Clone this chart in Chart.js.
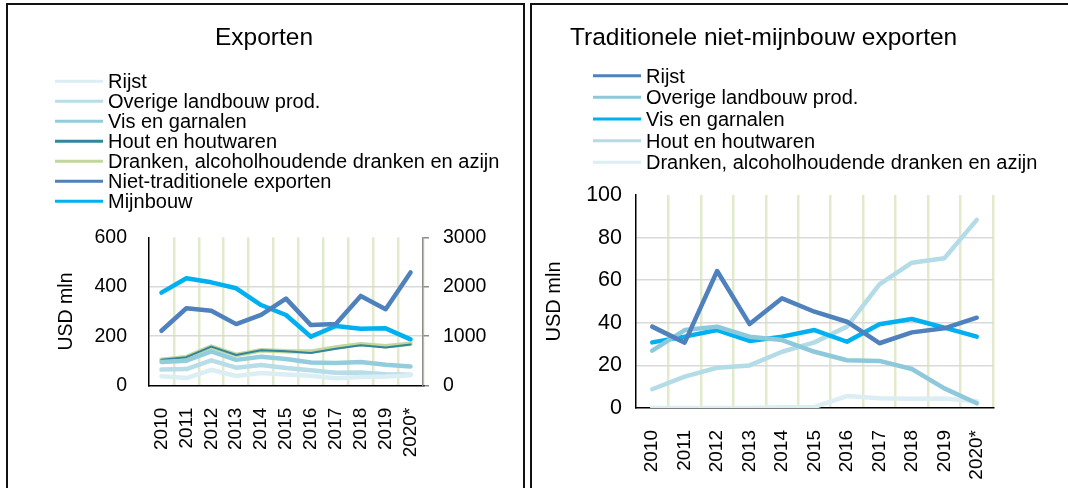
<!DOCTYPE html>
<html>
<head>
<meta charset="utf-8">
<script src="https://cdn.jsdelivr.net/npm/chart.js@4.4.1/dist/chart.umd.min.js"></script>
<style>
  html, body { margin: 0; padding: 0; background: #fff; width: 1068px; height: 488px; overflow: hidden; }
  .panel { position: absolute; top: 3px; height: 500px; border: 2px solid #111; border-bottom: none; box-sizing: border-box; }
  #panelLeft { left: 6px; width: 519px; }
  #panelRight { left: 530px; width: 560px; border-right: none; }
  canvas { position: absolute; }
  #exportChart { left: 9px; top: 6px; }
  #tradChart { left: 533px; top: 6px; }
</style>
</head>
<body>
<div class="panel" id="panelLeft"></div>
<div class="panel" id="panelRight"></div>
<canvas id="exportChart" width="514" height="482"></canvas>
<canvas id="tradChart" width="535" height="482"></canvas>
<script>
// Years on the category axis
const years = ['2010', '2011', '2012', '2013', '2014', '2015', '2016', '2017', '2018', '2019', '2020*'];

// Traditional non-mining exports, USD mln
const rijst    = [38.2, 30.7, 64.3, 39.4, 51.5, 45.2, 40.5, 30.4, 35.5, 37.4, 42.4];
const overige  = [26.9, 36.6, 38.2, 33.5, 31.9, 26.4, 22.4, 22.1, 18.3, 9.2, 2.2];
const vis      = [30.8, 33.5, 36.6, 31.5, 33.5, 36.6, 31.1, 39.3, 41.8, 37.7, 33.5];
const hout     = [8.8, 14.7, 18.9, 20.0, 26.4, 30.8, 38.2, 58.0, 68.2, 70.3, 88.3];
const dranken  = [0, 0, 0, 0, 0.3, 0.5, 5.6, 4.6, 4.3, 4.5, 3.2];

// Other export groups, USD mln
const nietTraditioneel = [222, 313, 303, 249, 286, 352, 245, 249, 363, 309, 458];
const mijnbouw         = [1881, 2171, 2090, 1969, 1631, 1429, 991, 1207, 1153, 1160, 937];

// Axis ticks
const exportTicksLeft  = [0, 200, 400, 600];
const exportTicksRight = [0, 1000, 2000, 3000];
const tradTicks        = [0, 20, 40, 60, 80, 100];

const FONT = "'Liberation Sans', Arial, Helvetica, sans-serif";
Chart.defaults.font.family = FONT;
Chart.defaults.color = '#000';
Chart.defaults.animation = false;

// Title and single-column legend drawn above the plot area
const panelHeader = {
  id: 'panelHeader',
  afterDraw(chart, args, o) {
    const ctx = chart.ctx;
    ctx.save();
    ctx.fillStyle = '#000';
    ctx.textBaseline = 'alphabetic';
    ctx.font = o.titleSize + 'px ' + FONT;
    ctx.textAlign = o.titleAlign;
    ctx.fillText(o.title, o.titleX, o.titleY);
    ctx.font = o.legendSize + 'px ' + FONT;
    ctx.textAlign = 'left';
    ctx.lineCap = 'butt';
    chart.data.datasets.forEach((ds, i) => {
      const base = o.legendY + i * o.legendStep;
      const ly = base - o.lineRise;
      ctx.strokeStyle = ds.borderColor;
      ctx.lineWidth = o.legendLineWidth;
      ctx.beginPath();
      ctx.moveTo(o.legendX, ly);
      ctx.lineTo(o.legendX + o.legendLen, ly);
      ctx.stroke();
      ctx.fillText(ds.label, o.legendX + o.legendLen + o.legendGap, base);
    });
    ctx.restore();
  }
};

const VGRID = '#e2eacb';
const HGRID = '#d9d9d9';

function lineSet(label, data, color, width, extra) {
  return Object.assign({
    label, data,
    borderColor: color,
    backgroundColor: color,
    borderWidth: width,
    pointRadius: 0,
    pointHoverRadius: 0,
    tension: 0,
    fill: false,
    borderJoinStyle: 'round',
    borderCapStyle: 'round'
  }, extra || {});
}

function categoryAxis(height) {
  return {
    type: 'category',
    offset: true,
    grid: {
      offset: true,
      drawTicks: false,
      lineWidth: 2.5,
      color: c => (c.index === 0 || c.index === years.length) ? 'rgba(0,0,0,0)' : VGRID
    },
    border: { color: '#000', width: 1.5 },
    ticks: {
      autoSkip: false, minRotation: 90, maxRotation: 90, padding: 22,
      font: { size: 19 }, color: '#000'
    },
    afterFit: s => { s.height = height; }
  };
}

// Left panel: all exports, traditional groups stacked, mining on the secondary axis
new Chart(document.getElementById('exportChart'), {
  type: 'line',
  data: {
    labels: years,
    datasets: [
      lineSet('Rijst', rijst, '#dbeef4', 4.5, { stack: 'trad' }),
      lineSet('Overige landbouw prod.', overige, '#b7dde8', 4.5, { stack: 'trad' }),
      lineSet('Vis en garnalen', vis, '#93cddd', 4.5, { stack: 'trad' }),
      lineSet('Hout en houtwaren', hout, '#31859c', 2, { stack: 'trad' }),
      lineSet('Dranken, alcoholhoudende dranken en azijn', dranken, '#c3d69b', 4.5, { stack: 'trad' }),
      lineSet('Niet-traditionele exporten', nietTraditioneel, '#4f81bd', 4.5, { stack: 'nt' }),
      lineSet('Mijnbouw', mijnbouw, '#00b0f0', 4.5, { yAxisID: 'y1' })
    ]
  },
  options: {
    responsive: false,
    events: [],
    layout: { padding: { top: 231.3, left: 0, right: 0, bottom: 0 } },
    plugins: {
      legend: { display: false },
      title: { display: false },
      tooltip: { enabled: false },
      panelHeader: {
        title: 'Exporten', titleSize: 24.5, titleAlign: 'center', titleX: 255, titleY: 39,
        legendSize: 20, legendX: 46, legendLen: 48, legendGap: 5, legendY: 82.3, legendStep: 20,
        legendLineWidth: 3, lineRise: 7
      }
    },
    scales: {
      x: categoryAxis(102.3),
      y: {
        position: 'left',
        stacked: true,
        min: 0, max: 600,
        afterBuildTicks: s => { s.ticks = exportTicksLeft.map(v => ({ value: v })); },
        grid: {
          drawTicks: false, lineWidth: 1.5,
          color: c => (c.tick && (c.tick.value === 0 || c.tick.value === 600)) ? 'rgba(0,0,0,0)' : HGRID
        },
        border: { color: '#000', width: 1.5 },
        ticks: { padding: 22, font: { size: 19.5 }, color: '#000' },
        title: { display: true, text: 'USD mln', font: { size: 19.5 }, color: '#000', padding: { top: 46, bottom: 0 } },
        afterFit: s => { s.width = 140; }
      },
      y1: {
        position: 'right',
        min: 0, max: 3000,
        afterBuildTicks: s => { s.ticks = exportTicksRight.map(v => ({ value: v })); },
        grid: { drawOnChartArea: false, drawTicks: true, tickLength: 6, color: '#8c8c8c', lineWidth: 1.5 },
        border: { color: '#8c8c8c', width: 1.5 },
        ticks: { padding: 14, font: { size: 19.5 }, color: '#000', callback: v => String(v) },
        afterFit: s => { s.width = 100; }
      }
    }
  },
  plugins: [panelHeader]
});

// Right panel: traditional non-mining exports
new Chart(document.getElementById('tradChart'), {
  type: 'line',
  data: {
    labels: years,
    datasets: [
      lineSet('Rijst', rijst, '#4f81bd', 4.5),
      lineSet('Overige landbouw prod.', overige, '#8ec9db', 4.5),
      lineSet('Vis en garnalen', vis, '#00b0f0', 4.5),
      lineSet('Hout en houtwaren', hout, '#b4dce7', 4.5),
      lineSet('Dranken, alcoholhoudende dranken en azijn', dranken, '#dbeef4', 4.5)
    ]
  },
  options: {
    responsive: false,
    events: [],
    layout: { padding: { top: 189, left: 0, right: 75, bottom: 0 } },
    plugins: {
      legend: { display: false },
      title: { display: false },
      tooltip: { enabled: false },
      panelHeader: {
        title: 'Traditionele niet-mijnbouw exporten', titleSize: 24.5, titleAlign: 'left', titleX: 37, titleY: 39,
        legendSize: 20, legendX: 60, legendLen: 48, legendGap: 5, legendY: 76.7, legendStep: 21.65,
        legendLineWidth: 3, lineRise: 7
      }
    },
    scales: {
      x: categoryAxis(80),
      y: {
        position: 'left',
        min: 0, max: 100,
        afterBuildTicks: s => { s.ticks = tradTicks.map(v => ({ value: v })); },
        grid: {
          drawTicks: false, lineWidth: 1.5,
          color: c => (c.tick && (c.tick.value === 0 || c.tick.value === 100)) ? 'rgba(0,0,0,0)' : HGRID
        },
        border: { color: '#000', width: 1.5 },
        ticks: { padding: 14, font: { size: 21.5 }, color: '#000' },
        title: { display: true, text: 'USD mln', font: { size: 20 }, color: '#000', padding: { top: 9, bottom: 0 } },
        afterFit: s => { s.width = 103; }
      }
    }
  },
  plugins: [panelHeader]
});
</script>
</body>
</html>
